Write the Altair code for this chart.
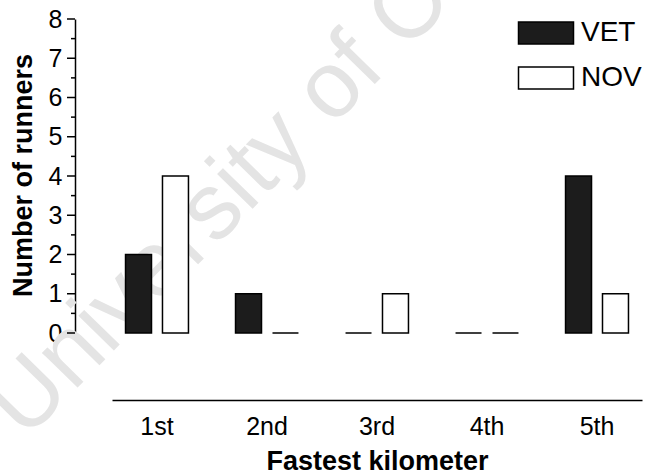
import altair as alt
import pandas as pd

kilometers = ["1st", "2nd", "3rd", "4th", "5th"]
vet_runners = [2, 1, 0, 0, 4]
nov_runners = [4, 0, 1, 0, 1]
groups = ["VET", "NOV"]
group_colors = ["#1c1c1c", "#ffffff"]
y_major = list(range(9))
y_minor = [i + 0.5 for i in range(8)]
watermark_text = ["University of Cape Town"]

rows = []
for i, k in enumerate(kilometers):
    rows.append({"km": k, "group": "VET", "runners": vet_runners[i]})
    rows.append({"km": k, "group": "NOV", "runners": nov_runners[i]})
df = pd.DataFrame(rows)

FONT = "Liberation Sans"
Y_OFFSET = 37

y_scale = alt.Scale(domain=[0, 8], nice=False)
y_axis = alt.Axis(
    values=y_major, format="d", ticks=False,
    offset=Y_OFFSET, grid=False, labelFontSize=25, labelFont=FONT, labelColor="black",
    labelPadding=13, labelOverlap=False, domainColor="black",
    domainWidth=1.5,
    title="Number of runners", titleFontSize=27, titleFont=FONT,
    titleFontWeight="bold", titleColor="black", titleX=-52, titleY=156,
    titleAngle=270, titleAlign="center", titleBaseline="middle",
)

watermark = alt.Chart(pd.DataFrame({"t": watermark_text})).mark_text(
    angle=314.4, align="left", baseline="alphabetic", fontSize=94, font=FONT,
    color="#e4e4e4"
).encode(text="t:N", x=alt.value(-86.6), y=alt.value(421.8))

bars = alt.Chart(df).mark_bar(stroke="black", strokeWidth=1.5).encode(
    x=alt.X(
        "km:N", sort=kilometers,
        scale=alt.Scale(paddingInner=0.364, paddingOuter=0.091),
        axis=alt.Axis(
            offset=67, ticks=False, labelAngle=0, labelFontSize=25, labelFont=FONT,
            labelColor="black", labelPadding=14, domainColor="black", domainWidth=1.5,
            title="Fastest kilometer", titleFontSize=27, titleFont=FONT,
            titleFontWeight="bold", titleColor="black", titleY=61,
            titleBaseline="middle",
        ),
    ),
    xOffset=alt.XOffset(
        "group:N", sort=groups,
        scale=alt.Scale(paddingInner=0.297, paddingOuter=0.095),
    ),
    y=alt.Y("runners:Q", scale=y_scale, axis=y_axis),
    color=alt.Color(
        "group:N", sort=groups,
        scale=alt.Scale(domain=groups, range=group_colors),
        legend=alt.Legend(
            title=None, orient="none", legendX=420, legendY=0,
            symbolType="M-2.5,-1H2.5V1H-2.5Z", symbolSize=484,
            symbolStrokeColor="black", symbolStrokeWidth=1.5, symbolOpacity=1,
            labelFontSize=28, labelFont=FONT, labelColor="black", labelOffset=21,
            rowPadding=17, padding=0,
        ),
    ),
)

major_ticks = alt.Chart(pd.DataFrame({"runners": y_major})).mark_rule(
    color="black", strokeWidth=1.5
).encode(
    y=alt.Y("runners:Q", scale=y_scale, axis=y_axis),
    x=alt.value(-Y_OFFSET - 8),
    x2=alt.value(-Y_OFFSET),
)

minor_ticks = alt.Chart(pd.DataFrame({"runners": y_minor})).mark_rule(
    color="black", strokeWidth=1.5
).encode(
    y=alt.Y("runners:Q", scale=y_scale, axis=y_axis),
    x=alt.value(-Y_OFFSET - 4),
    x2=alt.value(-Y_OFFSET),
)

chart = alt.layer(watermark, bars, major_ticks, minor_ticks).properties(
    width=530, height=314,
    padding={"left": 112, "top": 19, "right": 3, "bottom": 142},
    autosize="none",
    background="white",
).configure_view(stroke=None)

chart.save("out.html", embed_options={"renderer": "svg", "actions": False})
